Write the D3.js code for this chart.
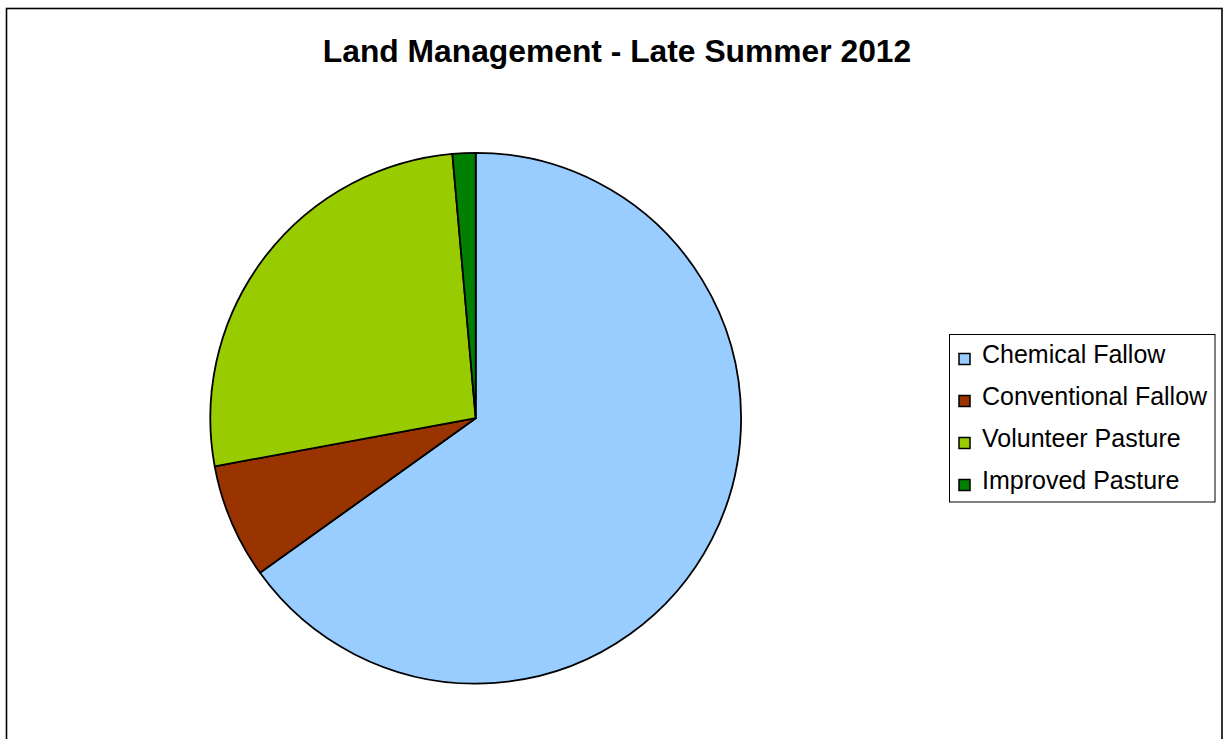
<!DOCTYPE html>
<html>
<head>
<meta charset="utf-8">
<script src="https://cdn.jsdelivr.net/npm/d3@7"></script>
<style>
  html, body { margin: 0; padding: 0; background: #fff; }
  svg { display: block; }
  text { font-family: Arial, "Liberation Sans", sans-serif; }
</style>
</head>
<body>
<svg id="chart" width="1223" height="739"></svg>
<script>
// Share of land under each management type (percent)
const categories = ["Chemical Fallow", "Conventional Fallow", "Volunteer Pasture", "Improved Pasture"];
const values = [65.1, 7.0, 26.5, 1.4];
const colors = ["#99CCFF", "#993300", "#99CC00", "#008000"];
const title = "Land Management - Late Summer 2012";

const svg = d3.select("#chart");

// outer chart frame
svg.append("rect")
  .attr("x", 6.5).attr("y", 8.5)
  .attr("width", 1215.5).attr("height", 760)
  .attr("fill", "#fff")
  .attr("stroke", "#000")
  .attr("stroke-width", 1.6);

// title
svg.append("text")
  .attr("x", 617).attr("y", 62)
  .attr("text-anchor", "middle")
  .attr("font-size", 31.8)
  .attr("font-weight", "bold")
  .attr("fill", "#000")
  .text(title);

// pie
const cx = 475.7, cy = 418.2, radius = 265.4;
const pie = d3.pie().sort(null).value(d => d.value);
const arc = d3.arc().innerRadius(0).outerRadius(radius);
const data = categories.map((c, i) => ({ name: c, value: values[i], color: colors[i] }));

const g = svg.append("g").attr("transform", `translate(${cx},${cy})`);
g.selectAll("path")
  .data(pie(data))
  .join("path")
  .attr("d", arc)
  .attr("fill", d => d.data.color)
  .attr("stroke", "#000")
  .attr("stroke-width", 1.8)
  .attr("stroke-linejoin", "round");

// legend
const legend = svg.append("g");
legend.append("rect")
  .attr("x", 949.5).attr("y", 334.5)
  .attr("width", 265.5).attr("height", 167.5)
  .attr("fill", "#fff")
  .attr("stroke", "#000")
  .attr("stroke-width", 1);

const rowY = d3.scalePoint().domain(categories).range([363, 489]);
const items = legend.selectAll("g.item")
  .data(data)
  .join("g")
  .attr("class", "item");

items.append("rect")
  .attr("x", 959).attr("y", d => rowY(d.name) - 9.5)
  .attr("width", 11).attr("height", 11)
  .attr("fill", d => d.color)
  .attr("stroke", "#000")
  .attr("stroke-width", 1.5);

items.append("text")
  .attr("x", 982).attr("y", d => rowY(d.name))
  .attr("font-size", 25)
  .attr("fill", "#000")
  .text(d => d.name);
</script>
</body>
</html>
